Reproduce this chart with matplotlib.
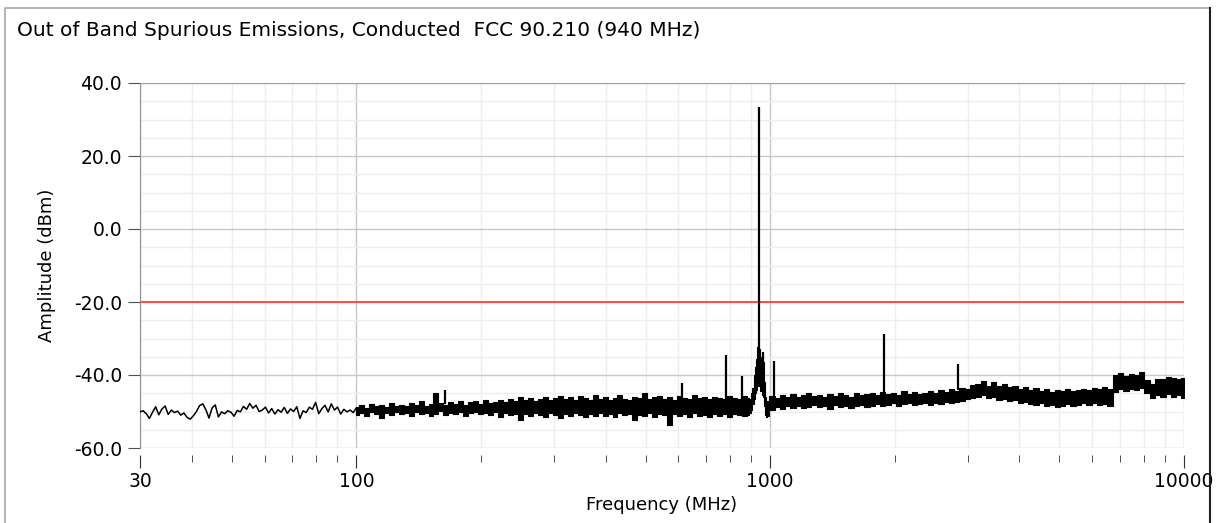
import numpy as np
import matplotlib
matplotlib.use("Agg")
import matplotlib.pyplot as plt
from matplotlib.ticker import FixedLocator, NullFormatter, FormatStrFormatter
from matplotlib.lines import Line2D

# sparse part of the sweep, 30-100 MHz (single trace)
lo_amp = [-50.1, -49.8, -50.6, -51.9, -50.2, -48.7, -50.9, -49.3, -48.5, -50.8,
          -49.6, -50.3, -49.9, -51.0, -50.4, -51.6, -52.1, -51.2, -50.0, -48.4,
          -47.9, -49.5, -51.8, -49.0, -48.2, -51.5, -50.1, -50.6, -49.8, -50.2,
          -51.3, -49.7, -50.1, -48.6, -49.4, -47.8, -49.1, -48.3, -50.0, -49.6,
          -48.8, -50.4, -49.2, -50.7, -49.5, -50.2, -48.9, -50.5, -49.3, -50.0,
          -48.7, -51.9, -49.8, -50.3, -48.8, -49.4, -47.5, -50.6, -49.2, -48.3,
          -50.1, -47.9, -49.6, -48.8, -50.7, -49.4, -50.1, -49.6, -50.3, -49.0]

# dense part 100-890 MHz, upper / lower edge of the trace
mid_top = [-48.8, -48.3, -49.0, -47.9, -48.6, -48.1, -48.8, -47.6, -48.4, -48.1,
           -48.6, -47.6, -48.3, -47.2, -48.4, -47.9, -44.9, -47.6, -48.1, -47.3,
           -47.9, -47.0, -48.2, -47.5, -47.2, -47.9, -46.8, -47.6, -47.3, -46.8,
           -47.3, -46.6, -47.0, -45.9, -46.8, -46.2, -47.1, -46.5, -46.0, -46.9,
           -46.3, -45.8, -46.7, -46.1, -46.9, -45.7, -46.4, -46.8, -45.5, -46.6,
           -46.0, -46.9, -46.2, -45.6, -46.5, -46.8, -45.9, -46.4, -44.8, -46.7,
           -46.1, -45.7, -46.5, -46.0, -46.8, -45.8, -46.3, -46.6, -45.6, -46.4,
           -46.0, -46.7, -45.9, -46.3, -46.6, -45.7, -46.2, -46.5, -45.8, -46.3]
mid_bot = [-50.9, -50.3, -51.2, -50.1, -50.7, -51.7, -50.4, -51.0, -50.2, -50.8,
           -50.5, -51.3, -50.0, -50.7, -50.3, -51.1, -50.6, -49.9, -50.9, -50.4,
           -50.7, -50.1, -51.2, -50.5, -50.0, -50.8, -50.3, -51.0, -50.2, -51.4,
           -50.4, -51.0, -50.7, -52.3, -50.6, -51.2, -50.3, -50.9, -51.4, -50.5,
           -51.0, -51.8, -50.6, -51.2, -50.4, -50.9, -51.5, -50.7, -51.1, -50.5,
           -51.3, -50.8, -51.6, -50.4, -51.0, -50.6, -52.4, -50.9, -51.2, -50.5,
           -51.4, -50.7, -51.0, -53.8, -50.6, -51.3, -50.8, -51.5, -50.5, -51.1,
           -50.9, -51.6, -50.6, -51.2, -50.8, -51.4, -50.7, -51.0, -51.3, -50.9]

# hump around the 940 MHz carrier
car_freq = [892, 902, 910, 916, 922, 928, 934, 940, 946, 952, 958, 964, 970, 976, 982]
car_top = [-46.5, -45.0, -43.5, -40.0, -37.8, -35.5, -32.3, -33.0, -36.0, -35.0,
           -38.5, -36.5, -42.0, -46.0, -47.0]
car_bot = [-50.5, -49.5, -48.0, -46.5, -45.0, -44.0, -42.5, -43.0, -44.5, -44.0,
           -45.5, -46.0, -48.5, -51.0, -51.5]

# dense part 980-10000 MHz
hi_top = [-47.0, -45.8, -46.3, -45.5, -46.1, -45.2, -46.0, -45.6, -44.9, -45.8,
          -45.4, -46.0, -45.1, -45.7, -44.8, -45.5, -45.9, -45.0, -45.6, -45.2,
          -45.0, -45.5, -44.6, -45.2, -44.9, -45.4, -44.5, -45.1, -44.7, -45.3,
          -44.8, -44.3, -45.0, -44.1, -44.6, -43.8, -44.4, -43.5, -43.9, -42.8,
          -42.4, -41.6, -42.9, -42.0, -43.0, -42.6, -43.4, -43.0, -43.8, -43.3,
          -44.0, -43.6, -44.3, -43.9, -44.6, -44.1, -44.4, -43.8, -44.5, -44.0,
          -43.7, -44.2, -43.5, -43.9, -43.3, -43.8, -40.0, -39.4, -40.2, -39.6,
          -39.9, -39.3, -41.5, -42.6, -41.0, -41.0, -40.5, -40.9, -41.2, -40.8]
hi_bot = [-51.2, -49.6, -48.8, -49.3, -48.6, -49.1, -48.4, -49.0, -48.7, -48.3,
          -48.9, -48.5, -49.4, -48.2, -48.8, -48.4, -49.1, -48.6, -48.1, -48.7,
          -48.5, -48.0, -48.6, -48.2, -47.8, -48.4, -48.0, -47.7, -48.3, -47.9,
          -47.8, -48.2, -47.6, -47.9, -47.4, -47.8, -47.3, -47.0, -46.6, -46.2,
          -46.0, -45.6, -46.4, -46.1, -46.8, -46.5, -47.2, -46.9, -47.6, -47.3,
          -47.9, -48.3, -47.8, -48.6, -48.2, -48.9, -48.4, -48.0, -48.6, -48.1,
          -47.8, -48.3, -47.6, -48.1, -47.9, -48.4, -44.6, -43.9, -44.5, -43.8,
          -44.2, -43.6, -44.8, -46.2, -45.4, -45.9, -45.3, -46.0, -45.5, -46.2]

# narrow spurs (frequency, peak, local floor)
spur_freq = [164, 612, 782, 855, 940, 962, 1022, 1880, 2845]
spur_amp = [-44.1, -42.2, -34.5, -40.3, 33.4, -33.7, -36.2, -28.8, -37.0]
spur_floor = [-48.0, -47.0, -47.0, -47.0, -40.0, -40.0, -46.0, -45.0, -44.0]

limit_db = -20.0

lo_freq = np.geomspace(30, 100, len(lo_amp))
mid_freq = np.geomspace(100, 890, len(mid_top))
hi_freq = np.geomspace(980, 10000, len(hi_top))

W, H = 1217, 523
fig = plt.figure(figsize=(W / 100, H / 100), dpi=100)
# panel frame
fig.lines.append(Line2D([5 / W, 5 / W, 1210 / W], [0, 1 - 8 / H, 1 - 8 / H],
                        transform=fig.transFigure, color='#a8a8a8', lw=1.2))
fig.lines.append(Line2D([1210 / W, 1210 / W], [0, 1 - 8 / H],
                        transform=fig.transFigure, color='#202020', lw=1.5))

ax = fig.add_axes([140 / W, 1 - 448 / H, (1184 - 140) / W, (448 - 83) / H])
ax.set_xscale('log')
ax.set_xlim(30, 10000)
ax.set_ylim(-60, 40)

ax.plot(lo_freq, lo_amp, color='black', lw=1.1, zorder=3)
for f, top, bot in ((mid_freq, mid_top, mid_bot),
                    (car_freq, car_top, car_bot),
                    (hi_freq, hi_top, hi_bot)):
    ax.fill_between(f, bot, top, step='mid', color='black', lw=0.8, zorder=3)
ax.vlines(spur_freq, spur_floor, spur_amp, color='black', lw=1.6, zorder=3)
ax.axhline(limit_db, color='#ff2a1a', lw=1.1, zorder=2)

ax.xaxis.set_major_locator(FixedLocator([30, 100, 1000, 10000]))
ax.xaxis.set_major_formatter(FormatStrFormatter('%d'))
minors = [m * d for d in (10, 100, 1000) for m in range(2, 10) if 30 < m * d < 10000]
ax.xaxis.set_minor_locator(FixedLocator(minors))
ax.xaxis.set_minor_formatter(NullFormatter())
ax.yaxis.set_major_locator(FixedLocator(np.arange(-60, 41, 20)))
ax.yaxis.set_minor_locator(FixedLocator(np.arange(-60, 41, 5)))
ax.yaxis.set_major_formatter(FormatStrFormatter('%.1f'))

ax.grid(which='major', color='#c8c8c8', lw=1)
ax.grid(which='minor', color='#eeeeee', lw=1)
ax.set_axisbelow(True)

for s in ('right', 'bottom'):
    ax.spines[s].set_visible(False)
ax.spines['bottom'].set_position(('outward', 5))
ax.spines['left'].set_color('#909090')
ax.spines['top'].set_color('#a0a0a0')

ax.tick_params(axis='y', which='major', length=9, color='#505050', labelsize=13.5, pad=4)
ax.tick_params(axis='y', which='minor', length=0)
ax.tick_params(axis='x', which='major', length=9, color='#303030', labelsize=13.5, pad=3)
ax.tick_params(axis='x', which='minor', length=5, color='#303030')

ax.set_xlabel('Frequency (MHz)', fontsize=13, labelpad=4)
ax.set_ylabel('Amplitude (dBm)', fontsize=13, labelpad=13)

fig.text(17 / W, 1 - 30 / H, 'Out of Band Spurious Emissions, Conducted  FCC 90.210 (940 MHz)',
         fontsize=14.5, va='center', ha='left')

fig.savefig('out.png', dpi=100)
